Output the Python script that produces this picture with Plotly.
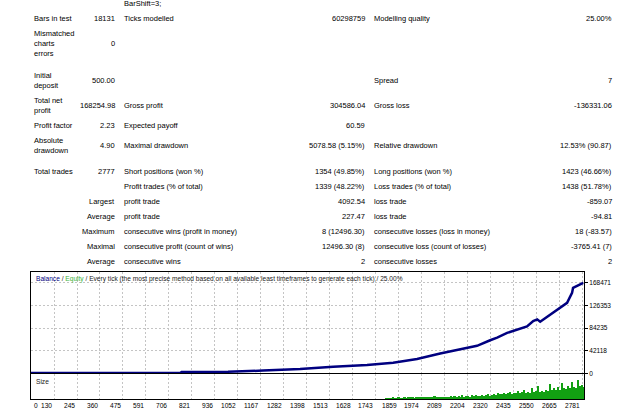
import plotly.graph_objects as go

# ---------------- data ----------------
row_label = ["Bars in test", "Mismatched<br>charts<br>errors", "Initial<br>deposit", "Total net<br>profit",
             "Profit factor", "Absolute<br>drawdown", "Total trades", "", "", "", "", "", ""]
row_value = ["18131", "0", "500.00", "168254.98", "2.23", "4.90", "2777", "",
             "Largest", "Average", "Maximum", "Maximal", "Average"]
mid_label = ["Ticks modelled", "", "", "Gross profit", "Expected payoff", "Maximal drawdown",
             "Short positions (won %)", "Profit trades (% of total)", "profit trade", "profit trade",
             "consecutive wins (profit in money)", "consecutive profit (count of wins)", "consecutive wins"]
mid_value = ["60298759", "", "", "304586.04", "60.59", "5078.58 (5.15%)", "1354 (49.85%)",
             "1339 (48.22%)", "4092.54", "227.47", "8 (12496.30)", "12496.30 (8)", "2"]
right_label = ["Modelling quality", "", "Spread", "Gross loss", "", "Relative drawdown",
               "Long positions (won %)", "Loss trades (% of total)", "loss trade", "loss trade",
               "consecutive losses (loss in money)", "consecutive loss (count of losses)", "consecutive losses"]
right_value = ["25.00%", "", "7", "-136331.06", "", "12.53% (90.87)", "1423 (46.66%)",
               "1438 (51.78%)", "-859.07", "-94.81", "18 (-83.57)", "-3765.41 (7)", "2"]

trade_no = [0, 763, 770, 1003, 1179, 1365, 1531, 1701, 1832, 1952, 2068, 2203, 2253, 2319, 2354,
            2404, 2454, 2504, 2535, 2555, 2570, 2635, 2655, 2705, 2730, 2735, 2786]
balance = [500, 500, 2500, 3000, 5000, 8000, 12400, 15400, 19800, 26500, 37000, 48100, 51200, 61600,
           66600, 75300, 82000, 87500, 97500, 100500, 96200, 112800, 117100, 131400, 149900, 159100, 168755]

size_trade = list(range(1800, 2800, 10))
size_lots = [0.3, 0.5, 0.3, 0.8, 0.4, 0.6, 1, 0.5, 0.7, 1.2,
             0.6, 1, 0.8, 1.5, 0.7, 1, 1.2, 2, 0.9, 1.3,
             1.2, 1.8, 1, 1.5, 2.5, 1.4, 1.8, 1.2, 2.2, 1.6,
             2, 1.5, 2.5, 1.8, 3, 2, 2.4, 1.8, 3.5, 2.2,
             2.5, 3, 2.2, 3.5, 2.8, 4, 3, 2.6, 3.8, 3.2,
             3.5, 4.5, 3.2, 4, 5, 3.8, 6, 4.2, 4.8, 5.5,
             4.5, 5.2, 7, 4.8, 6, 5.5, 8, 5.2, 6.5, 9,
             6, 7, 5.8, 10, 6.5, 7.5, 12, 7, 8, 6.8,
             9, 8, 14, 8.5, 10, 9, 11, 8.5, 15, 10,
             9.5, 12, 10, 16, 11, 10.5, 18, 12, 13, 11]

x_ticks = [130, 245, 360, 475, 591, 706, 821, 936, 1052, 1167, 1282, 1398, 1513, 1628, 1743,
           1859, 1974, 2089, 2204, 2320, 2435, 2550, 2665, 2781]
y_ticks = [0, 42118, 84235, 126353, 168471]

# ---------------- layout helpers ----------------
W, H = 625, 416
def px(x): return x / W
def py(y): return 1 - y / H

FONT = "Liberation Sans, Arial, sans-serif"
fig = go.Figure()
fig.add_trace(go.Scatter(x=trade_no, y=balance, mode="lines",
                         line=dict(color="#000080", width=2.5), xaxis="x", yaxis="y",
                         showlegend=False, hoverinfo="skip"))
fig.add_trace(go.Bar(x=size_trade, y=size_lots, marker=dict(color="#12a012", line_width=0),
                     width=10, xaxis="x2", yaxis="y2", showlegend=False, hoverinfo="skip"))

xr = [14, 2790]
grid = dict(showgrid=True, gridcolor="#c4c4c4", griddash="2px,2px", gridwidth=1)
frame = dict(showline=True, mirror=True, linecolor="#000000", linewidth=1, zeroline=False)
fig.update_layout(
    width=W, height=H, autosize=False,
    margin=dict(l=0, r=0, t=0, b=0),
    paper_bgcolor="white", plot_bgcolor="white",
    bargap=0,
    xaxis=dict(domain=[px(31), px(584)], range=xr, tickvals=x_ticks, showticklabels=False,
               anchor="y", **grid, **frame),
    yaxis=dict(domain=[py(376), py(274)], range=[0, 188800], tickvals=y_ticks,
               ticktext=[str(v) for v in y_ticks], side="right", ticks="outside", ticklen=3,
               tickcolor="#000", tickfont=dict(family=FONT, size=6.5, color="#000"),
               anchor="x", **grid, **frame),
    xaxis2=dict(domain=[px(31), px(584)], range=xr, tickvals=x_ticks, showticklabels=False,
                anchor="y2", **grid, **frame),
    yaxis2=dict(domain=[py(402), py(377)], range=[0, 24], showticklabels=False, showgrid=False,
                anchor="x2", **frame),
)

ann = []
def txt(x, y, s, anchor="left", size=7.5, color="#000", xref="paper"):
    ann.append(dict(x=x, y=y, xref=xref, yref="paper", text=s, showarrow=False,
                    xanchor=anchor, yanchor="middle", align=anchor,
                    font=dict(family=FONT, size=size, color=color)))

row_y = [19, 44, 81, 106, 126, 147, 173, 188, 203, 218, 233, 248, 263]
txt(px(122), py(4), "BarShift=3;")
for i, y in enumerate(row_y):
    if row_label[i]: txt(px(32), py(y), row_label[i])
    if row_value[i]: txt(px(117), py(y), row_value[i], anchor="right")
    if mid_label[i]: txt(px(122), py(y), mid_label[i])
    if mid_value[i]: txt(px(367), py(y), mid_value[i], anchor="right")
    if right_label[i]: txt(px(372), py(y), right_label[i])
    if right_value[i]: txt(px(614), py(y), right_value[i], anchor="right")

txt(px(34), py(281), '<span style="color:#000080">Balance</span> / '
    '<span style="color:#3cb33c">Equity</span> / Every tick (the most precise method based on '
    'all available least timeframes to generate each tick) / 25.00%', size=6.6, color="#222")
txt(px(34), py(384), "Size", size=6.6, color="#222")

txt(px(32), py(408), "0", size=6.6)
for t in x_ticks:
    txt(t, py(408), str(t), anchor="right", size=6.6, xref="x2")

fig.update_layout(annotations=ann)
fig.write_html("out.html")
